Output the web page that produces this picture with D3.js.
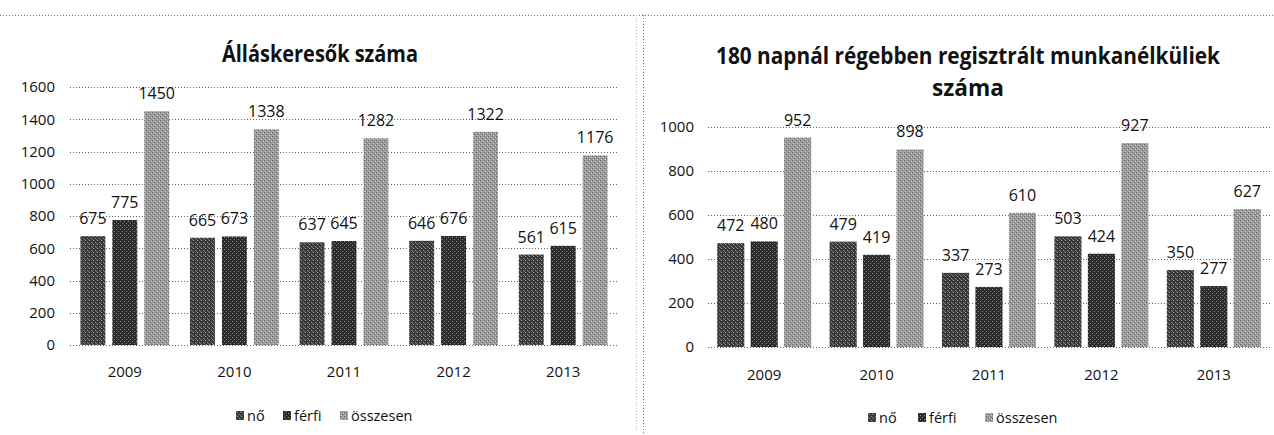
<!DOCTYPE html>
<meta charset="utf-8">
<script src="https://d3js.org/d3.v7.min.js"></script>
<style>
  body { margin: 0; background: #fff; }
  text { font-family: "Open Sans", sans-serif; fill: #111; }
  .title { font-weight: bold; }
</style>
<svg id="chart" width="1274" height="435"></svg>
<script>
"use strict"

// categories + series
var years = ["2009", "2010", "2011", "2012", "2013"]
var seriesNames = ["nő", "férfi", "összesen"]

// Álláskeresők száma
var leftNo = [675, 665, 637, 646, 561]
var leftFerfi = [775, 673, 645, 676, 615]
var leftOssz = [1450, 1338, 1282, 1322, 1176]
var leftTicks = [0, 200, 400, 600, 800, 1000, 1200, 1400, 1600]

// 180 napnál régebben regisztrált munkanélküliek száma
var rightNo = [472, 479, 337, 503, 350]
var rightFerfi = [480, 419, 273, 424, 277]
var rightOssz = [952, 898, 610, 927, 627]
var rightTicks = [0, 200, 400, 600, 800, 1000]

var svg = d3.select("#chart")
var defs = svg.append("defs")

// halftone-ish fills to look like the scanned print
function makePattern(id, base, dots) {
  var p = defs.append("pattern")
    .attr("id", id)
    .attr("patternUnits", "userSpaceOnUse")
    .attr("width", 4).attr("height", 4)
  p.append("rect").attr("width", 4).attr("height", 4).attr("fill", base)
  dots.forEach(function(d) {
    p.append("rect").attr("x", d[0]).attr("y", d[1])
      .attr("width", 1).attr("height", 1).attr("fill", d[2])
  })
}
makePattern("pNo", "#3a3a3a", [[1, 0, "#9c9c9c"], [3, 2, "#8a8a8a"], [0, 3, "#777"]])
makePattern("pFerfi", "#2c2c2c", [[0, 1, "#8c8c8c"], [2, 3, "#7a7a7a"]])
makePattern("pOssz", "#9a9a9a", [[0, 0, "#666"], [2, 2, "#6c6c6c"], [1, 3, "#d4d4d4"], [3, 1, "#cfcfcf"]])
var fills = ["url(#pNo)", "url(#pFerfi)", "url(#pOssz)"]

// frame lines (dotted, like the scan)
var frame = svg.append("g").attr("stroke", "#777").attr("stroke-dasharray", "1 2").attr("fill", "none")
frame.append("line").attr("x1", 0).attr("x2", 1274).attr("y1", 15.5).attr("y2", 15.5)
frame.append("line").attr("x1", 643.5).attr("x2", 643.5).attr("y1", 15).attr("y2", 435)
frame.append("line").attr("x1", 636.5).attr("x2", 636.5).attr("y1", 15).attr("y2", 430).attr("stroke", "#bbb")

function drawPanel(cfg) {
  var g = svg.append("g")
  var x = d3.scaleBand().domain(years).range(cfg.xRange)
    .paddingInner(cfg.pad).paddingOuter(cfg.pad / 2)
  var xs = d3.scaleBand().domain(seriesNames).range([0, x.bandwidth()])
    .paddingInner(cfg.innerPad)
  var y = d3.scaleLinear().domain([0, cfg.max]).range(cfg.yRange)

  // title
  cfg.title.forEach(function(t) {
    g.append("text").attr("class", "title")
      .attr("x", cfg.titleX).attr("y", t.y)
      .attr("text-anchor", "middle")
      .attr("font-size", 23)
      .attr("textLength", t.len).attr("lengthAdjust", "spacingAndGlyphs")
      .text(t.text)
  })

  // gridlines
  g.append("g").selectAll("line").data(cfg.ticks).join("line")
    .attr("x1", cfg.xRange[0]).attr("x2", cfg.xRange[1])
    .attr("y1", function(d) { return Math.round(y(d)) + 0.5 })
    .attr("y2", function(d) { return Math.round(y(d)) + 0.5 })
    .attr("stroke", "#666").attr("stroke-dasharray", "1 2")

  // y axis labels
  var ya = g.append("g")
    .attr("transform", "translate(" + cfg.xRange[0] + ",0)")
    .call(d3.axisLeft(y).tickValues(cfg.ticks).tickFormat(d3.format("d"))
      .tickSize(0).tickPadding(cfg.xRange[0] - cfg.labelX))
  ya.select(".domain").remove()
  ya.selectAll("text").attr("font-size", 15).attr("fill", "#111")
    .attr("font-family", "Open Sans, sans-serif")

  // bars
  var rows = []
  years.forEach(function(yr, i) {
    cfg.series.forEach(function(s, j) {
      rows.push({ year: yr, name: seriesNames[j], value: s[i], k: j })
    })
  })
  g.append("g").selectAll("rect").data(rows).join("rect")
    .attr("x", function(d) { return x(d.year) + xs(d.name) })
    .attr("width", xs.bandwidth())
    .attr("y", function(d) { return y(d.value) })
    .attr("height", function(d) { return y(0) - y(d.value) })
    .attr("fill", function(d) { return fills[d.k] })

  // value labels
  g.append("g").selectAll("text").data(rows).join("text")
    .attr("x", function(d) { return x(d.year) + xs(d.name) + xs.bandwidth() / 2 })
    .attr("y", function(d) { return y(d.value) - 12 })
    .attr("text-anchor", "middle")
    .attr("font-size", 16)
    .text(function(d) { return d.value })

  // x axis labels
  var xa = g.append("g")
    .attr("transform", "translate(0," + cfg.yearY + ")")
    .call(d3.axisBottom(x).tickSize(0).tickPadding(0))
  xa.select(".domain").remove()
  xa.selectAll("text").attr("font-size", 15).attr("fill", "#111")
    .attr("font-family", "Open Sans, sans-serif").attr("dy", "0.35em")

  // legend
  var lg = g.append("g").attr("transform", "translate(" + cfg.legendX + "," + cfg.legendY + ")")
  var offs = cfg.legendOffs
  seriesNames.forEach(function(n, j) {
    lg.append("rect").attr("x", offs[j]).attr("y", -5).attr("width", 8).attr("height", 9)
      .attr("fill", fills[j])
    lg.append("text").attr("x", offs[j] + 11).attr("y", 0).attr("dy", "0.35em")
      .attr("font-size", 14.5).text(n)
  })
}

drawPanel({
  series: [leftNo, leftFerfi, leftOssz],
  ticks: leftTicks, max: 1600,
  xRange: [70, 618], yRange: [345, 87],
  pad: 0.19, innerPad: 0.22,
  labelX: 55,
  title: [{ text: "Álláskeresők száma", y: 62, len: 196 }],
  titleX: 320,
  yearY: 372,
  legendX: 236, legendY: 416,
  legendOffs: [0, 47, 104]
})

drawPanel({
  series: [rightNo, rightFerfi, rightOssz],
  ticks: rightTicks, max: 1000,
  xRange: [708, 1270], yRange: [347, 127],
  pad: 0.164, innerPad: 0.19,
  labelX: 694,
  title: [
    { text: "180 napnál régebben regisztrált munkanélküliek", y: 64, len: 504 },
    { text: "száma", y: 96, len: 72 }
  ],
  titleX: 968,
  yearY: 375,
  legendX: 868, legendY: 418,
  legendOffs: [0, 50, 117]
})
</script>
